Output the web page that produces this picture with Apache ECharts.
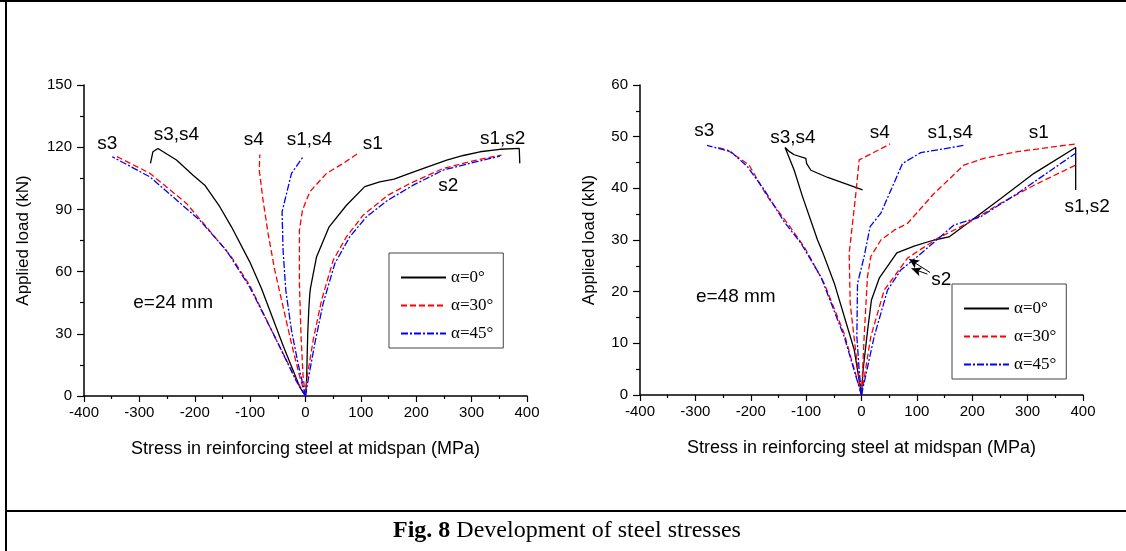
<!DOCTYPE html>
<html>
<head>
<meta charset="utf-8">
<script src="https://cdn.jsdelivr.net/npm/echarts@6/dist/echarts.min.js"></script>
<style>
html, body { margin: 0; padding: 0; background: #fff; }
#main { width: 1126px; height: 551px; }
</style>
</head>
<body>
<div id="main"></div>
<script>
// e=24 mm (左图) 各测点曲线 [应力 MPa, 荷载 kN]
var left0_s12 = [[0,0],[2,8],[4,30],[6,42],[7.8,49.4],[9,52],[19.9,67.1],[42.7,81.6],[74,92],[107,101],[134,103.3],[160,104.6],[188,107.4],[222,110.6],[255,113.8],[285,116],[315,117.8],[351,119],[386,119.4],[387,112.2]];
var left0_s34 = [[0,0],[-10.3,4.3],[-40,24],[-79.5,51.8],[-100.7,64.7],[-133.7,81.6],[-154.8,91.3],[-181.9,101.7],[-203,106.5],[-233,113.8],[-266.5,119.4],[-275.6,117.8],[-280,112.2]];
var left30_s3 = [[0,0],[-16.3,7.6],[-58.4,30.1],[-100.7,53.4],[-133.7,67],[-179,81.6],[-215,92.9],[-281,107.4],[-345.8,116.2]];
var left30_s4 = [[0,0],[-10.3,9.2],[-25.3,25.3],[-40.5,43],[-55.5,60.7],[-67.6,78.4],[-76.7,94.5],[-83.5,109],[-82.5,116.5]];
var left30_s1 = [[0,0],[-4.3,9.2],[-8,28.5],[-11,54.3],[-11,80],[-5.4,89.7],[7.8,98.5],[38,107.4],[68,112.2],[93,116.7]];
var left30_s2 = [[0,0],[3,9.2],[13.8,26.9],[29,46.2],[50,65.5],[74,76.8],[104,87.2],[149,96.9],[188.6,102.5],[249,109.8],[309,113.8],[354,116.2]];
var left45_s3 = [[0,0],[-16.3,7],[-58,30],[-100.7,52.5],[-143,70.3],[-191,84.8],[-281,105.7],[-349,115.4]];
var left45_s14 = [[0,0],[-13.4,15.6],[-25.3,31.7],[-35.6,51],[-40.5,70.3],[-42.3,88.8],[-25.3,107.4],[-4.3,115.4]];
var left45_s2 = [[0,0],[4.7,7.6],[16.8,25.3],[31.8,44.6],[53,63.9],[80,76.8],[110,86.4],[149,94.5],[194.6,101.7],[249,109],[309,113],[351,115.7]];

// e=48 mm (右图)
var right0_s12 = [[0,0],[3,5],[11,12.5],[18,18.4],[32,22.6],[63.8,27.5],[95,28.8],[131,30],[158,30.6],[191,33.2],[251,38],[311.6,42.9],[386.8,47.9],[386.8,39.7]];
var right0_s34 = [[0,0],[-13,8.7],[-49,21.6],[-70.4,27.7],[-79.4,30],[-106.5,38.4],[-121.5,43.5],[-138,47.9],[-130,47.1],[-121.5,46.5],[-100.5,45.8],[-99,44.8],[-91.4,43.5],[-61,42.1],[2,39.7]];
var right30_s3 = [[0,0],[-31.3,11.9],[-67.4,21.6],[-103.5,28.7],[-133.5,33.2],[-170,38.4],[-203,44.5],[-242,47.4],[-260,47.9]];
var right30_s4 = [[0,0],[-10,8],[-20.4,17.7],[-22.3,27.4],[-10.2,39],[-4.2,45.5],[51.7,48.6]];
var right30_s1 = [[0,0],[4.8,11.3],[10.8,22.9],[16.8,26.8],[35,30],[59,31.9],[83,33.2],[131,39],[185,44.5],[221,45.8],[281.5,47.1],[386.8,48.6]];
var right30_s2 = [[0,0],[16.8,11.3],[41,20.3],[59,22.9],[83,26.5],[137,30.3],[191,33.2],[251,37.1],[311.6,40.6],[386.8,44.5]];
var right45_s3 = [[0,0],[-31.3,11.3],[-73.4,22.9],[-109.5,29.4],[-139.5,33.5],[-175.6,39.7],[-206,44.2],[-236,47.1],[-279,48.3]];
var right45_s14 = [[0,0],[-4.2,4.8],[-8.4,11.3],[-7.2,21.6],[4.8,26.8],[15.6,32.6],[35,35.2],[74,44.8],[107,46.9],[184,48.3]];
var right45_s2 = [[0,0],[22.9,11.3],[47,20.3],[71,24.2],[101,26.8],[167,32.9],[215,34.5],[281.5,39],[386.8,46.8]];

// 标注文字 [文字, x, y]
var leftNotes = [['s3',-358,121.5],['s3,s4',-233,126],['s4',-93.5,123.5],['s1,s4',7,123.5],['s1',121.7,121.5],['s1,s2',356,124],['s2',258,101.2],['e=24 mm',-239,45.2]];
var rightNotes = [['s3',-284,51.1],['s3,s4',-124,49.7],['s4',33,50.8],['s1,s4',160,50.8],['s1',320,50.8],['s1,s2',407.6,36.4],['s2',144,22.4],['e=48 mm',-227,19]];
// s2 箭头 [起点, 终点]
var s2Arrows = [[[123.8,23.7],[86,26.3]],[[119,23.4],[90.3,24.5]]];

var names = ['α=0°', 'α=30°', 'α=45°'];
var xTicks = { min: -400, max: 400, interval: 100 };

var myChart = echarts.init(document.getElementById('main'));

function line(name, data, gi, color, dash) {
    return {
        name: name,
        type: 'line',
        xAxisIndex: gi,
        yAxisIndex: gi,
        data: data,
        symbol: 'none',
        animation: false,
        lineStyle: { color: color, width: 1.3, type: dash },
        itemStyle: { color: color }
    };
}

function xAxis(gi) {
    return {
        type: 'value', gridIndex: gi,
        min: xTicks.min, max: xTicks.max, interval: xTicks.interval,
        splitLine: { show: false },
        axisLine: { onZero: false, lineStyle: { color: '#000', width: 1.5 } },
        axisTick: { length: 6, lineStyle: { color: '#000', width: 1.2 } },
        minorTick: { show: true, splitNumber: 2, length: 3, lineStyle: { color: '#000', width: 1.2 } },
        axisLabel: { color: '#000', fontFamily: 'Liberation Sans', fontSize: 15, margin: 9 },
        name: 'Stress in reinforcing steel at midspan (MPa)',
        nameLocation: 'middle',
        nameGap: 44,
        nameTextStyle: { color: '#000', fontFamily: 'Liberation Sans', fontSize: 18 }
    };
}

function yAxis(gi, max, interval, gap) {
    return {
        type: 'value', gridIndex: gi,
        min: 0, max: max, interval: interval,
        splitLine: { show: false },
        axisLine: { onZero: false, lineStyle: { color: '#000', width: 1.5 } },
        axisTick: { length: 7, lineStyle: { color: '#000', width: 1.2 } },
        minorTick: { show: true, splitNumber: 2, length: 4, lineStyle: { color: '#000', width: 1.2 } },
        axisLabel: { color: '#000', fontFamily: 'Liberation Sans', fontSize: 15, margin: 12 },
        name: 'Applied load (kN)',
        nameLocation: 'middle',
        nameGap: gap,
        nameTextStyle: { color: '#000', fontFamily: 'Liberation Sans', fontSize: 17 }
    };
}

function legend(left, top) {
    return {
        data: names,
        orient: 'vertical',
        left: left, top: top,
        padding: [16, 10, 6, 11],
        itemGap: 11,
        itemWidth: 45,
        itemHeight: 14,
        borderColor: '#444',
        borderWidth: 1,
        selectedMode: false,
        itemStyle: { opacity: 0 },   // 只显示线型，不要圆点
        textStyle: { color: '#000', fontFamily: 'Liberation Serif', fontSize: 17 }
    };
}

var black = '#000', red = '#ff0000', blue = '#0000ff';
var dash30 = [6, 3], dash45 = [7, 2, 2, 2];

var rightBlack = line(names[0], right0_s12, 1, black, 'solid');
rightBlack.markLine = {
    silent: true,
    animation: false,
    symbol: ['none', 'arrow'],
    symbolSize: [7, 10],
    lineStyle: { color: '#000', type: 'solid', width: 1 },
    label: { show: false },
    data: s2Arrows.map(function (a) {
        return [{ coord: a[0] }, { coord: a[1] }];
    })
};

myChart.setOption({
    animation: false,
    grid: [
        { left: 84, top: 85, width: 443, height: 311 },
        { left: 640, top: 85, width: 443, height: 310 }
    ],
    xAxis: [xAxis(0), xAxis(1)],
    yAxis: [yAxis(0, 150, 30, 52), yAxis(1, 60, 10, 42)],
    legend: [legend(389, 253), legend(952, 284)],
    series: [
        line(names[0], left0_s12, 0, black, 'solid'),
        line(names[0], left0_s34, 0, black, 'solid'),
        line(names[1], left30_s3, 0, red, dash30),
        line(names[1], left30_s4, 0, red, dash30),
        line(names[1], left30_s1, 0, red, dash30),
        line(names[1], left30_s2, 0, red, dash30),
        line(names[2], left45_s3, 0, blue, dash45),
        line(names[2], left45_s14, 0, blue, dash45),
        line(names[2], left45_s2, 0, blue, dash45),
        rightBlack,
        line(names[0], right0_s34, 1, black, 'solid'),
        line(names[1], right30_s3, 1, red, dash30),
        line(names[1], right30_s4, 1, red, dash30),
        line(names[1], right30_s1, 1, red, dash30),
        line(names[1], right30_s2, 1, red, dash30),
        line(names[2], right45_s3, 1, blue, dash45),
        line(names[2], right45_s14, 1, blue, dash45),
        line(names[2], right45_s2, 1, blue, dash45)
    ]
});

// 标注、边框和图题
var graphics = [];
function addNotes(notes, gi) {
    notes.forEach(function (n) {
        var p = myChart.convertToPixel({ gridIndex: gi }, [n[1], n[2]]);
        graphics.push({
            type: 'text', x: p[0], y: p[1], silent: true,
            style: { text: n[0], fill: '#000', font: '19px "Liberation Sans"', align: 'center', verticalAlign: 'middle' }
        });
    });
}
addNotes(leftNotes, 0);
addNotes(rightNotes, 1);

function rule(x1, y1, x2, y2) {
    return { type: 'line', silent: true, shape: { x1: x1, y1: y1, x2: x2, y2: y2 }, style: { stroke: '#000', lineWidth: 2 } };
}
graphics.push(rule(0, 1, 1126, 1));
graphics.push(rule(6, 0, 6, 551));
graphics.push(rule(6, 511, 1126, 511));
graphics.push({
    type: 'text', x: 567, y: 531, silent: true,
    style: {
        text: '{b|Fig. 8} Development of steel stresses',
        fill: '#000', font: '24px "Liberation Serif"', align: 'center', verticalAlign: 'middle',
        rich: { b: { fontWeight: 'bold', fontSize: 24, fontFamily: 'Liberation Serif' } }
    }
});

myChart.setOption({ graphic: graphics });
</script>
</body>
</html>
